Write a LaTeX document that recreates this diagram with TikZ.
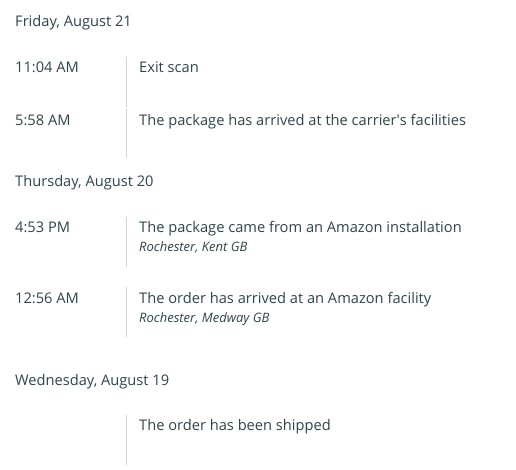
\documentclass[tikz,border=0pt]{standalone}
\usepackage{fontspec}
\setmainfont{Open Sans}
\definecolor{txt}{HTML}{2E4549}
\definecolor{sep}{HTML}{D4D4D4}
\begin{document}
\begin{tikzpicture}[x=1pt,y=-1pt,
  lbl/.style={inner sep=0pt,anchor=base west,text=txt,font=\fontsize{14.65}{16}\selectfont},
  loc/.style={inner sep=0pt,anchor=base west,text=txt,font=\fontsize{13}{14}\selectfont\itshape},
  sepline/.style={draw=sep,line width=1pt}]
\useasboundingbox[fill=white] (0,0) rectangle (516,469);
% day headers
\node[lbl] (d1) at (15,26.7) {Friday, August 21};
\node[lbl] (d2) at (15,186.7) {Thursday, August 20};
\node[lbl] (d3) at (15,385) {Wednesday, August 19};
% times
\node[lbl] (t1) at (15,72.7) {11:04 AM};
\node[lbl] (t2) at (15,125) {5:58 AM};
\node[lbl] (t3) at (15,232.7) {4:53 PM};
\node[lbl] (t4) at (15,303.3) {12:56 AM};
% events
\node[lbl] (e1) at (139,72.7) {Exit scan};
\node[lbl] (e2) at (139,125) {The package has arrived at the carrier\textquotesingle s facilities};
\node[lbl] (e3) at (139,232.7) {The package came from an Amazon installation};
\node[loc] (l3) at (139,251.7) {Rochester, Kent GB};
\node[lbl] (e4) at (139,303.3) {The order has arrived at an Amazon facility};
\node[loc] (l4) at (139,322.7) {Rochester, Medway GB};
\node[lbl] (e5) at (139,430.7) {The order has been shipped};
% separators
\coordinate (s1a) at (126.5,56.7); \coordinate (s1b) at (126.5,106.7);
\coordinate (s2a) at (126.5,108.7); \coordinate (s2b) at (126.5,158.3);
\coordinate (s3a) at (126.5,217.3); \coordinate (s3b) at (126.5,266.7);
\coordinate (s4a) at (126.5,287.3); \coordinate (s4b) at (126.5,337.3);
\coordinate (s5a) at (126.5,415); \coordinate (s5b) at (126.5,465);
\draw[sepline] (s1a) -- (s1b);
\draw[sepline] (s2a) -- (s2b);
\draw[sepline] (s3a) -- (s3b);
\draw[sepline] (s4a) -- (s4b);
\draw[sepline] (s5a) -- (s5b);
\end{tikzpicture}
\end{document}
